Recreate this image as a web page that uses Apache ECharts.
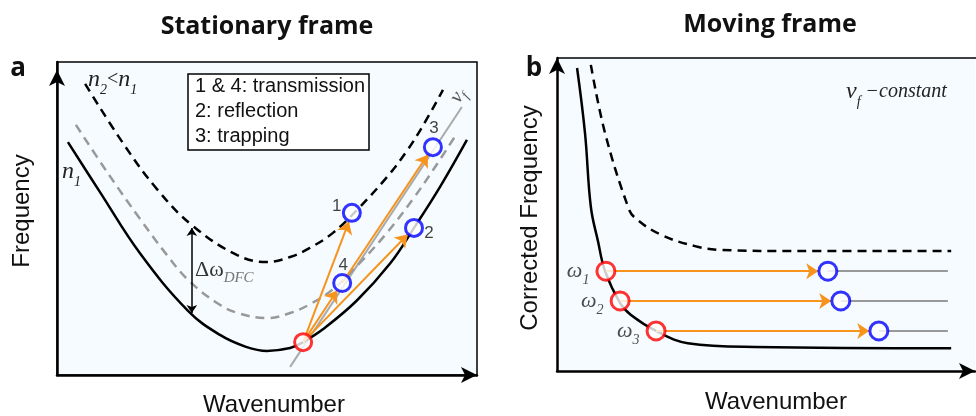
<!DOCTYPE html>
<html><head><meta charset="utf-8">
<script src="https://cdn.jsdelivr.net/npm/echarts@6/dist/echarts.min.js"></script>
<style>html,body{margin:0;padding:0;background:#fff}#c{width:976px;height:416px}</style>
</head><body><div id="c"></div>
<script>
// ---------- Panel a : stationary frame (wavenumber k, frequency w, arbitrary units 0..100)
const n1K  = [2.6, 10.2, 19.8, 31.2, 38.8, 45.0, 50.0, 55.5, 58.6, 63.3, 71.4, 79.3, 85.0, 91.2, 97.6];
const n1W  = [74.4, 58.5, 38.8, 20.5, 12.8, 9.0, 7.7, 8.6, 10.5, 14.6, 23.8, 35.6, 47.0, 60.1, 75.1];
const dfcK = [4.5, 11.9, 19.8, 26.2, 31.2, 38.1, 43.1, 50.0, 55.5, 60.2, 65.7, 72.1, 78.6, 84.8, 89.5, 94.8];
const dfcW = [79.9, 64.9, 49.8, 38.3, 30.4, 23.0, 19.8, 18.2, 19.8, 22.6, 27.4, 35.8, 45.5, 56.3, 65.4, 76.3];
const n2K  = [6.7, 16.0, 23.8, 32.1, 42.9, 50.0, 55.5, 60.2, 65.7, 71.4, 78.6, 83.3, 87.1, 91.9];
const n2W  = [93.0, 73.5, 59.4, 47.9, 38.3, 36.1, 37.7, 40.6, 45.4, 52.7, 63.3, 71.6, 79.6, 91.1];
const vfK  = [55.5, 96.4];
const vfW  = [2.6, 85.6];
const inK  = [58.6];
const inW  = [10.5];
const outNames = ['1', '2', '3', '4'];
const outK = [70.2, 85.0, 89.5, 67.9];
const outW = [51.8, 47.0, 72.8, 29.4];
const arrowFromK = [58.6, 58.6, 58.6, 67.9];
const arrowFromW = [10.5, 10.5, 10.5, 29.4];
const arrowToK   = [69.5, 83.5, 66.7, 88.3];
const arrowToW   = [49.0, 44.9, 27.0, 70.4];
const dfcArrowK  = [32.1, 32.1];
const dfcArrowW  = [47.0, 19.8];
const legendLines = ['1 & 4: transmission', '2: reflection', '3: trapping'];

// ---------- Panel b : moving frame
const bSolidK = [4.8, 6.7, 8.1, 9.8, 11.5, 15.1, 17.7, 23.7, 31.3, 47.4, 94.3];
const bSolidW = [96.8, 76.0, 52.4, 41.5, 31.9, 21.7, 17.9, 12.8, 8.9, 7.7, 7.3];
const bDashK  = [8.1, 11.5, 17.0, 18.7, 24.9, 33.0, 39.2, 58.1, 94.3];
const bDashW  = [97.8, 76.0, 52.4, 48.9, 43.5, 39.9, 38.7, 38.3, 38.3];
const omegaNames  = ['1', '2', '3'];
const omegaW      = [31.9, 22.4, 12.8];
const omegaStartK = [11.7, 15.1, 23.7];
const omegaEndK   = [64.8, 67.9, 77.0];
const omegaTipK   = [62.5, 65.6, 74.7];
const guideEndK   = 93.5;

const zip = (a, b) => a.map((v, i) => [v, b[i]]);
const BG = '#f5fbfe', ORANGE = '#f7941d', BLUE = '#0000ff', RED = '#ff0000';
const SERIF = '"Liberation Serif", "DejaVu Serif", serif';
const SANS = '"Liberation Sans", Arial, sans-serif';

function axis(gi, endOffset) {
  return {
    type: 'value', gridIndex: gi, min: 0, max: 100,
    axisLine: { show: true, onZero: false, symbol: ['none', 'arrow'], symbolSize: [12, 16],
      symbolOffset: [0, endOffset], lineStyle: { color: '#000', width: 2.5 } },
    axisTick: { show: false }, axisLabel: { show: false }, splitLine: { show: false }
  };
}
const lineBase = (xi, data, color, type, width) => ({
  type: 'line', xAxisIndex: xi, yAxisIndex: xi, data, smooth: 0.4,
  showSymbol: false, symbol: 'none', silent: true, z: 2,
  lineStyle: { color, width, type }
});
const ring = (color) => ({ color: '#fff', borderColor: color, borderWidth: 3 });
const sub = (size, color) => ({ fontFamily: SERIF, fontStyle: 'italic', fontSize: size, lineHeight: size, verticalAlign: 'bottom', fill: color, color });
const ital = (size, lh, color) => ({ fontFamily: SERIF, fontStyle: 'italic', fontSize: size, lineHeight: lh, fill: color, color });
const txt = (x, y, text, font, extra) => Object.assign({ type: 'text', z: 11, x, y,
  style: { text, font, fill: '#111', textAlign: 'center', textVerticalAlign: 'middle', verticalAlign: 'middle' } }, extra || {});

const option = {
  animation: false,
  grid: [
    { left: 57, top: 62, width: 420, height: 313, show: true, backgroundColor: BG, borderColor: '#000', borderWidth: 1.5 },
    { left: 557, top: 58, width: 418, height: 313, show: true, backgroundColor: BG, borderWidth: 0 }
  ],
  xAxis: [axis(0, 0), axis(1, 0)],
  yAxis: [axis(0, -8), axis(1, 0)],
  series: [
    // panel a
    lineBase(0, zip(vfK, vfW), '#aaaaaa', 'solid', 2),
    lineBase(0, zip(dfcK, dfcW), '#999999', [9, 6], 2.5),
    lineBase(0, zip(n2K, n2W), '#000000', [9, 6], 2.5),
    lineBase(0, zip(n1K, n1W), '#000000', 'solid', 2.5),
    {
      type: 'lines', coordinateSystem: 'cartesian2d', xAxisIndex: 0, yAxisIndex: 0, z: 3,
      symbol: ['none', 'arrow'], symbolSize: 12,
      lineStyle: { color: ORANGE, width: 2, opacity: 1, curveness: 0 },
      data: arrowFromK.map((k, i) => ({ coords: [[k, arrowFromW[i]], [arrowToK[i], arrowToW[i]]] }))
    },
    {
      type: 'lines', coordinateSystem: 'cartesian2d', xAxisIndex: 0, yAxisIndex: 0, z: 3,
      symbol: ['arrow', 'arrow'], symbolSize: 8,
      lineStyle: { color: '#000', width: 1.5, opacity: 1 },
      data: [{ coords: zip(dfcArrowK, dfcArrowW) }]
    },
    {
      type: 'scatter', xAxisIndex: 0, yAxisIndex: 0, z: 4, symbolSize: 17,
      itemStyle: ring(RED), data: zip(inK, inW)
    },
    {
      type: 'scatter', xAxisIndex: 0, yAxisIndex: 0, z: 4, symbolSize: 17,
      itemStyle: ring(BLUE),
      label: { show: true, position: 'inside', formatter: p => p.name, color: '#111', fontSize: 17, fontFamily: SANS },
      data: outK.map((k, i) => ({ name: outNames[i], value: [k, outW[i]],
        label: { offset: [[-15, -7], [15, 5], [1, -19], [1, -18]][i] } }))
    },
    // panel b
    lineBase(1, zip(bDashK, bDashW), '#000000', [9, 6], 2.5),
    lineBase(1, zip(bSolidK, bSolidW), '#000000', 'solid', 2.5),
    {
      type: 'lines', coordinateSystem: 'cartesian2d', xAxisIndex: 1, yAxisIndex: 1, z: 2,
      symbol: ['none', 'none'], lineStyle: { color: '#999999', width: 2, opacity: 1 },
      data: omegaEndK.map((k, i) => ({ coords: [[k, omegaW[i]], [guideEndK, omegaW[i]]] }))
    },
    {
      type: 'lines', coordinateSystem: 'cartesian2d', xAxisIndex: 1, yAxisIndex: 1, z: 3,
      symbol: ['none', 'arrow'], symbolSize: 12,
      lineStyle: { color: ORANGE, width: 2, opacity: 1 },
      data: omegaStartK.map((k, i) => ({ coords: [[k, omegaW[i]], [omegaTipK[i], omegaW[i]]] }))
    },
    {
      type: 'scatter', xAxisIndex: 1, yAxisIndex: 1, z: 4, symbolSize: 18,
      itemStyle: ring(RED),
      label: { show: true, position: 'left', distance: 6,
        formatter: p => '{w|ω}{s|' + p.name + '}',
        rich: { w: ital(22, 32, '#222'), s: sub(14, '#222') } },
      data: omegaStartK.map((k, i) => ({ name: omegaNames[i], value: [k, omegaW[i]] }))
    },
    {
      type: 'scatter', xAxisIndex: 1, yAxisIndex: 1, z: 4, symbolSize: 18,
      itemStyle: ring(BLUE), data: zip(omegaEndK, omegaW)
    }
  ],
  graphic: [
    { type: 'line', z: 5, shape: { x1: 557, y1: 58, x2: 976, y2: 58 }, style: { stroke: '#000', lineWidth: 1.5 } },
    txt(267, 27, 'Stationary frame', 'bold 25px "Open Sans"'),
    txt(770, 25, 'Moving frame', 'bold 25px "Open Sans"'),
    txt(18, 69, 'a', 'bold 26px "Open Sans"'),
    txt(534, 69, 'b', 'bold 26px "Open Sans"'),
    txt(22, 211, 'Frequency', '24px ' + SANS, { rotation: Math.PI / 2 }),
    txt(530, 218, 'Corrected Frequency', '24px ' + SANS, { rotation: Math.PI / 2 }),
    txt(274, 405, 'Wavenumber', '24px ' + SANS),
    txt(776, 402, 'Wavenumber', '24px ' + SANS),
    { type: 'rect', z: 10, shape: { x: 188, y: 74, width: 181, height: 76 }, style: { fill: '#fff', stroke: '#000', lineWidth: 1.5 } },
    ...legendLines.map((t, i) => ({ type: 'text', z: 11, x: 195, y: 86 + i * 25,
      style: { text: t, font: '20px ' + SANS, fill: '#111', textAlign: 'left', textVerticalAlign: 'middle', verticalAlign: 'middle' } })),
    { type: 'text', z: 11, x: 88, y: 80, style: {
      text: '{n|n}{s|2}{o|<}{n|n}{s|1}', textAlign: 'left', textVerticalAlign: 'middle', verticalAlign: 'middle',
      rich: { n: ital(24, 34, '#222'), s: sub(14, '#222'), o: { fontFamily: SERIF, fontSize: 20, lineHeight: 34, fill: '#222', color: '#222' } } } },
    { type: 'text', z: 11, x: 62, y: 172, style: {
      text: '{n|n}{s|1}', textAlign: 'left', textVerticalAlign: 'middle', verticalAlign: 'middle',
      rich: { n: ital(24, 34, '#222'), s: sub(14, '#222') } } },
    { type: 'text', z: 11, x: 195, y: 270, style: {
      text: '{d|Δω}{s|DFC}', textAlign: 'left', textVerticalAlign: 'middle', verticalAlign: 'middle',
      rich: { d: { fontFamily: SERIF, fontSize: 22, lineHeight: 32, fill: '#333', color: '#333' }, s: sub(15, '#777') } } },
    { type: 'text', z: 11, x: 458, y: 96, rotation: Math.atan(1.5), style: {
      text: '{n|v}{s|f}', textAlign: 'center', textVerticalAlign: 'middle', verticalAlign: 'middle',
      rich: { n: ital(20, 26, '#555'), s: sub(13, '#555') } } },
    { type: 'text', z: 11, x: 846, y: 92, style: {
      text: '{n|v}{s|f}{c| −constant}', textAlign: 'left', textVerticalAlign: 'middle', verticalAlign: 'middle',
      rich: { n: ital(24, 34, '#222'), s: sub(14, '#222'), c: ital(20, 34, '#222') } } }
  ]
};
const chart = echarts.init(document.getElementById('c'));
chart.setOption(option);
</script>
</body></html>
